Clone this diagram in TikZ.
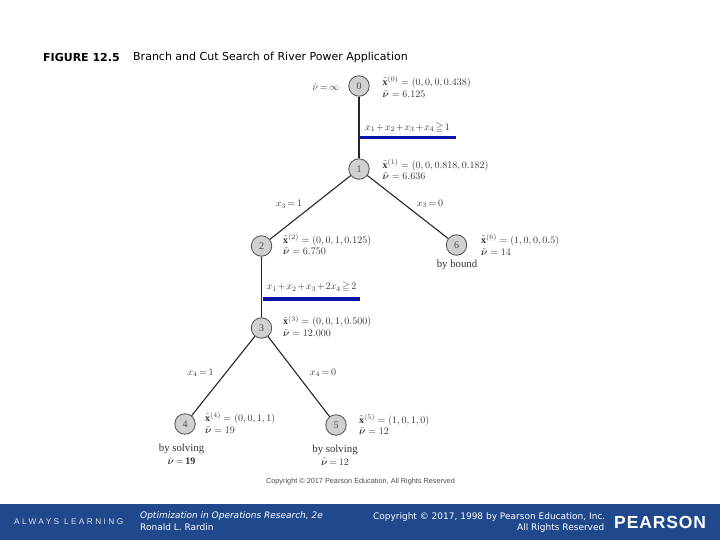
\documentclass[tikz,border=0pt]{standalone}
\usepackage{amsmath}
\usepackage{amssymb}
\usepackage{fontspec}
\setmainfont{Liberation Serif}
\newfontfamily\headfont{DejaVu Sans}
\newfontfamily\logofont{Liberation Sans}
\usetikzlibrary{positioning}
\definecolor{barblue}{RGB}{31,73,140}
\definecolor{cutblue}{RGB}{10,20,170}
\definecolor{nodegray}{RGB}{208,208,208}
\newcommand{\xt}[1]{\tilde{\mathbf{x}}^{(#1)}}
\newcommand{\vt}{\tilde{\boldsymbol{\nu}}}
\newcommand{\vh}{\hat{\boldsymbol{\nu}}}
\tikzset{
  treenode/.style={circle, draw=black!70, fill=nodegray, line width=0.8pt, minimum size=20.5pt, inner sep=0pt, text=black!70, font=\fontsize{10}{10}\selectfont},
  branch/.style={draw=black!85, line width=1.1pt},
  cut/.style={draw=cutblue, line width=3.6pt},
  info/.style={anchor=west, inner sep=0pt, text=black!80, font=\fontsize{10}{10}\selectfont},
  cutlabel/.style={info, execute at begin node={\medmuskip=1.5mu\thickmuskip=2.5mu}},
  branchlabel/.style={inner sep=0pt, text=black!80, font=\fontsize{10}{10}\selectfont, execute at begin node={\thickmuskip=3mu}},
  note/.style={inner sep=0pt, text=black!80, font=\fontsize{10.8}{11}\selectfont},
  foot/.style={inner sep=0pt, text=white, font=\headfont\fontsize{9}{9}\selectfont},
}
\begin{document}
\begin{tikzpicture}[x=1pt,y=-1pt]
\useasboundingbox (0,0) rectangle (720,540);

% Heading
\node[anchor=west, inner sep=0pt, font=\headfont\bfseries\fontsize{11}{11}\selectfont] (fignum) at (43,57) {FIGURE 12.5};
\node[anchor=west, inner sep=0pt, font=\headfont\fontsize{11}{11}\selectfont] (figtitle) at (133,57) {Branch and Cut Search of River Power Application};

% Tree nodes
\node[treenode] (n0) at (359,86) {0};
\node[treenode] (n1) at (359,169) {1};
\node[treenode] (n2) at (261.5,246) {2};
\node[treenode] (n6) at (456.5,245) {6};
\node[treenode] (n3) at (261.5,328) {3};
\node[treenode] (n4) at (185,424) {4};
\node[treenode] (n5) at (336,425) {5};

% Branches
\draw[branch] (n0) -- (n1);
\draw[branch] (n1) -- (n2);
\draw[branch] (n1) -- (n6);
\draw[branch] (n2) -- (n3);
\draw[branch] (n3) -- (n4);
\draw[branch] (n3) -- (n5);

% Cuts
\coordinate (cuta) at (359,137.7);
\coordinate (cutb) at (456,137.7);
\coordinate (cutc) at (262.5,298.7);
\coordinate (cutd) at (360,298.7);
\draw[cut] (cuta) -- (cutb);
\draw[cut] (cutc) -- (cutd);
\node[cutlabel] (cutlabela) at (365,128) {$x_1 + x_2 + x_3 + x_4 \geqq 1$};
\node[cutlabel] (cutlabelb) at (266.5,287) {$x_1 + x_2 + x_3 + 2x_4 \geqq 2$};

% Node data
\node[branchlabel] (incumbent) at (326,87) {$\hat{\nu} = \infty$};
\node[info] (xa) at (382.5,82) {$\xt{0} = (0, 0, 0, 0.438)$};
\node[info] (va) at (382.5,94) {$\vt = 6.125$};
\node[info] (xb) at (382.5,165) {$\xt{1} = (0, 0, 0.818, 0.182)$};
\node[info] (vb) at (382.5,176.5) {$\vt = 6.636$};
\node[info] (xc) at (283,240) {$\xt{2} = (0, 0, 1, 0.125)$};
\node[info] (vc) at (283,251.5) {$\vt = 6.750$};
\node[info] (xg) at (481,240) {$\xt{6} = (1, 0, 0, 0.5)$};
\node[info] (vg) at (481,252) {$\vt = 14$};
\node[info] (xd) at (283,321.5) {$\xt{3} = (0, 0, 1, 0.500)$};
\node[info] (vd) at (283,333) {$\vt = 12.000$};
\node[info] (xe) at (205,418) {$\xt{4} = (0, 0, 1, 1)$};
\node[info] (ve) at (205,430) {$\vt = 19$};
\node[info] (xf) at (359,420) {$\xt{5} = (1, 0, 1, 0)$};
\node[info] (vf) at (359,431.5) {$\vt = 12$};

% Branch labels
\node[branchlabel] (la) at (289,204.5) {$x_3 = 1$};
\node[branchlabel] (lb) at (430,204) {$x_3 = 0$};
\node[branchlabel] (lc) at (200.5,373) {$x_4 = 1$};
\node[branchlabel] (ld) at (323,373) {$x_4 = 0$};

% Termination notes
\node[note] (bound) at (457,265) {by bound};
\node[note] (solvea) at (181.5,449) {by solving};
\node[branchlabel] (hata) at (181.5,461) {$\vh = \mathbf{19}$};
\node[note] (solveb) at (335,449.5) {by solving};
\node[branchlabel] (hatb) at (335,461.5) {$\vh = 12$};
\node[inner sep=0pt, text=black!70, font=\logofont\fontsize{7.3}{7}\selectfont] (credit) at (360.5,481.7) {Copyright \textcopyright\ 2017 Pearson Education, All Rights Reserved};

% Footer
\fill[barblue] (0,504) rectangle (720,540);
\node[anchor=west, inner sep=0pt, text=white!85!barblue, font=\logofont\fontsize{8.3}{8}\selectfont] (always) at (14,521.5) {\addfontfeature{LetterSpace=29}ALWAYS LEARNING};
\node[foot, anchor=west] (book) at (140,516) {\itshape Optimization in Operations Research, 2e};
\node[foot, anchor=west] (author) at (140,527) {Ronald L. Rardin};
\node[foot, anchor=east] (rights) at (605.5,517) {Copyright \textcopyright\ 2017, 1998 by Pearson Education, Inc.};
\node[foot, anchor=east] (reserved) at (604.5,528) {All Rights Reserved};
\node[anchor=west, inner sep=0pt, text=white, font=\logofont\bfseries\fontsize{17.5}{17}\selectfont] (logo) at (614,522) {\addfontfeature{LetterSpace=5}PEARSON};
\end{tikzpicture}
\end{document}
